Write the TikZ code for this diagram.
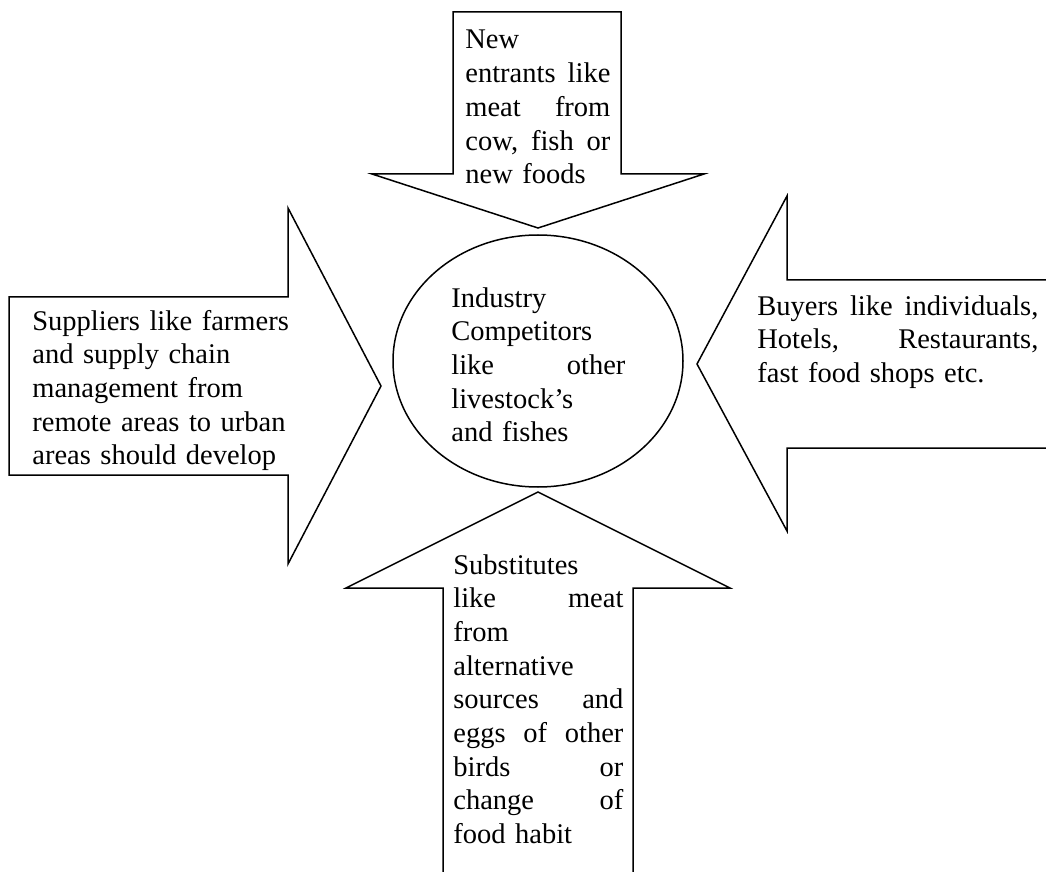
\documentclass[tikz,border=0pt]{standalone}
\usepackage{fontspec}
\setmainfont{Liberation Serif}
\newcommand{\bodyfont}{\fontsize{14.25pt}{16.85pt}\selectfont}
\begin{document}
\begin{tikzpicture}[x=0.5pt, y=-0.5pt,
    block/.style={draw, line width=0.75pt, line join=miter},
    txt/.style={anchor=base west, inner sep=0pt, align=left, font=\bodyfont}]
    \useasboundingbox (0,0) rectangle (1046,872);

    % Centre
    \draw[block] (538,361) ellipse (145 and 126);
    \node[txt, text width=87pt] (rivals) at (451,307)
        {Industry\\ Competitors\\ like\hfill other\\ livestock’s\\ and fishes};

    % Top block arrow
    \draw[block] (453,12) -- (621,12) -- (621,174) -- (704,174) -- (538,228)
        -- (372,174) -- (453,174) -- cycle;
    \node[txt, text width=72.5pt] (newent) at (465,49)
        {New\\ entrants\hfill like\\ meat\hfill from\\ cow,\hfill fish\hfill or\\ new foods};

    % Left block arrow
    \draw[block] (9,297) -- (288,297) -- (288,208) -- (381,386) -- (288,564)
        -- (288,475) -- (9,475) -- cycle;
    \node[txt, text width=130pt] (suppliers) at (32,330)
        {Suppliers like farmers\\ and supply chain\\ management from\\ remote areas to urban\\ areas should develop};

    % Right block arrow (open at the page edge)
    \draw[block] (1046,280) -- (787,280) -- (787,196) -- (697,364) -- (787,531)
        -- (787,448) -- (1046,448);
    \node[txt, text width=140.5pt] (buyers) at (757,315)
        {Buyers\hfill like\hfill individuals,\\ Hotels,\hfill Restaurants,\\ fast food shops etc.};

    % Bottom block arrow (open at the page edge)
    \draw[block] (443,872) -- (443,588) -- (346,588) -- (538,492) -- (730,588)
        -- (633,588) -- (633,872);
    \node[txt, text width=85pt] (substitutes) at (453,574)
        {Substitutes\\ like\hfill meat\\ from\\ alternative\\ sources\hfill and\\
         eggs\hfill of\hfill other\\ birds\hfill or\\ change\hfill of\\ food habit};
\end{tikzpicture}
\end{document}
